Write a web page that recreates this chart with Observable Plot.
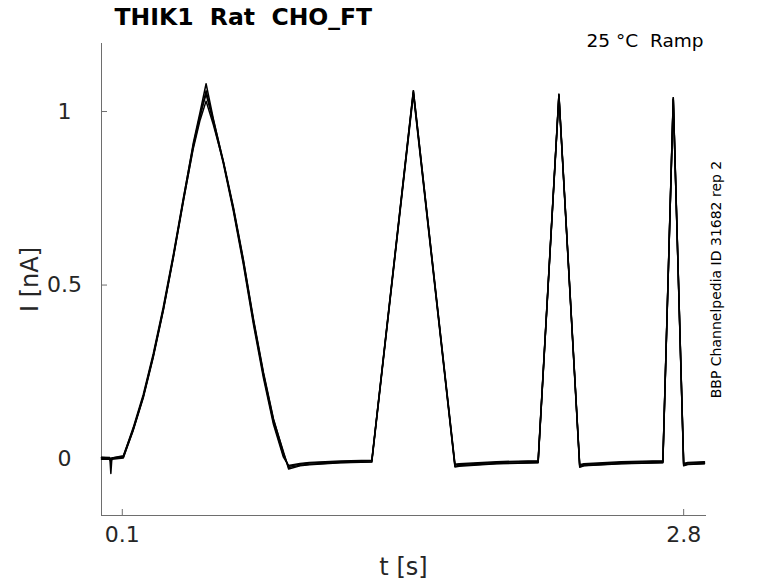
<!DOCTYPE html>
<html><head><meta charset="utf-8">
<script src="https://cdn.jsdelivr.net/npm/d3@7"></script>
<script src="https://cdn.jsdelivr.net/npm/@observablehq/plot@0.6"></script>
<style>html,body{margin:0;padding:0;background:#fff;overflow:hidden}svg{display:block}</style>
</head><body><div id="chart"></div>
<script>
const title = "THIK1  Rat  CHO_FT";
const subtitle = "25 °C  Ramp";
const sideNote = "BBP Channelpedia ID 31682 rep 2";
const xLabel = "t [s]";
const yLabel = "I [nA]";
const xTicks = [0.1, 2.8];
const xTickLabels = ["0.1", "2.8"];
const yTicks = [0, 0.5, 1];
const yTickLabels = ["0", "0.5", "1"];

const times = [0, 0.04, 0.045, 0.05, 0.105, 0.153, 0.201, 0.249, 0.297, 0.346, 0.394, 0.442, 0.474, 0.503, 0.538, 0.586, 0.634, 0.682, 0.731, 0.779, 0.827, 0.875, 0.9, 0.955, 1.0, 1.15, 1.3, 1.5, 1.7, 1.72, 1.9, 2.1, 2.2, 2.3, 2.32, 2.5, 2.7, 2.75, 2.8, 2.82, 2.9];
const trace1 = [0.004, 0.003, -0.043, 0.002, 0.008, 0.086, 0.18, 0.297, 0.431, 0.585, 0.748, 0.911, 0.998, 1.08, 0.979, 0.854, 0.719, 0.566, 0.393, 0.239, 0.105, 0.009, -0.022, -0.016, -0.013, -0.009, -0.006, 1.06, -0.018, -0.017, -0.011, -0.008, 1.05, -0.02, -0.017, -0.011, -0.008, 1.04, -0.016, -0.013, -0.011];
const trace2 = [0.0, 0.0, -0.01, 0.0, 0.004, 0.082, 0.175, 0.292, 0.426, 0.58, 0.742, 0.9, 0.985, 1.06, 0.975, 0.858, 0.726, 0.575, 0.402, 0.248, 0.115, 0.016, -0.026, -0.019, -0.016, -0.011, -0.009, 1.055, -0.022, -0.02, -0.014, -0.011, 1.045, -0.023, -0.02, -0.014, -0.011, 1.035, -0.019, -0.016, -0.014];
const trace3 = [0.003, 0.002, -0.005, 0.002, 0.006, 0.09, 0.185, 0.302, 0.436, 0.59, 0.752, 0.905, 0.99, 1.05, 0.97, 0.85, 0.714, 0.56, 0.386, 0.232, 0.099, 0.004, -0.02, -0.014, -0.011, -0.007, -0.005, 1.06, -0.016, -0.015, -0.009, -0.006, 1.05, -0.018, -0.015, -0.009, -0.006, 1.04, -0.014, -0.011, -0.009];
const trace4 = [-0.002, -0.002, -0.008, -0.002, 0.002, 0.084, 0.178, 0.295, 0.428, 0.582, 0.744, 0.895, 0.975, 1.03, 0.962, 0.855, 0.722, 0.572, 0.398, 0.245, 0.112, 0.02, -0.03, -0.021, -0.018, -0.012, -0.01, 1.05, -0.024, -0.022, -0.015, -0.012, 1.045, -0.025, -0.021, -0.015, -0.012, 1.035, -0.021, -0.017, -0.015];
const traces = [trace1, trace2, trace3, trace4];

const rows = traces.flatMap((arr, k) => arr.map((v, i) => ({t: times[i], I: v, trace: k})));

const W = 778, H = 583, mL = 101, mR = 73, mT = 43, mB = 68;
const frameW = W - mL - mR, frameH = H - mT - mB;
const axisColor = "#6e6e6e", textColor = "#262626";

const chart = Plot.plot({
  width: W, height: H,
  marginLeft: mL, marginRight: mR, marginTop: mT, marginBottom: mB,
  x: {domain: [0, 2.905], axis: null},
  y: {domain: [-0.164, 1.196], axis: null},
  style: {fontFamily: "DejaVu Sans", background: "#fff", overflow: "visible"},
  marks: [
    Plot.frame({anchor: "left", stroke: axisColor}),
    Plot.frame({anchor: "bottom", stroke: axisColor}),
    Plot.tickX(xTicks, {x: d => d, stroke: axisColor, insetTop: frameH - 6}),
    Plot.tickY(yTicks, {y: d => d, stroke: axisColor, insetRight: frameW - 6}),
    Plot.text(xTicks, {x: d => d, text: (d, i) => xTickLabels[i], frameAnchor: "bottom", lineAnchor: "middle", dy: 19, fontSize: 22, fill: textColor}),
    Plot.text(yTicks, {y: d => d, text: (d, i) => yTickLabels[i], frameAnchor: "left", lineAnchor: "middle", dx: -37, textAnchor: "middle", fontSize: 22, fill: textColor}),
    Plot.line(rows, {x: "t", y: "I", z: "trace", stroke: "black", strokeWidth: 1.5}),
    Plot.text([title], {text: d => d, frameAnchor: "top-left", lineAnchor: "middle", dx: 13, dy: -26, textAnchor: "start", fontSize: 23.5, fontWeight: "bold", fill: "black"}),
    Plot.text([subtitle], {text: d => d, frameAnchor: "top-right", lineAnchor: "middle", dx: -2, dy: -2, textAnchor: "end", fontSize: 18.5, fill: "black"}),
    Plot.text([yLabel], {text: d => d, frameAnchor: "left", lineAnchor: "middle", textAnchor: "middle", dx: -71, rotate: -90, fontSize: 24, fill: textColor}),
    Plot.text([xLabel], {text: d => d, frameAnchor: "bottom", lineAnchor: "middle", dy: 52, fontSize: 24, fill: textColor}),
    Plot.text([sideNote], {text: d => d, frameAnchor: "right", lineAnchor: "middle", textAnchor: "middle", dx: 11, rotate: -90, fontSize: 14, fill: "black"})
  ]
});
document.getElementById("chart").appendChild(chart);
</script>
</body></html>
